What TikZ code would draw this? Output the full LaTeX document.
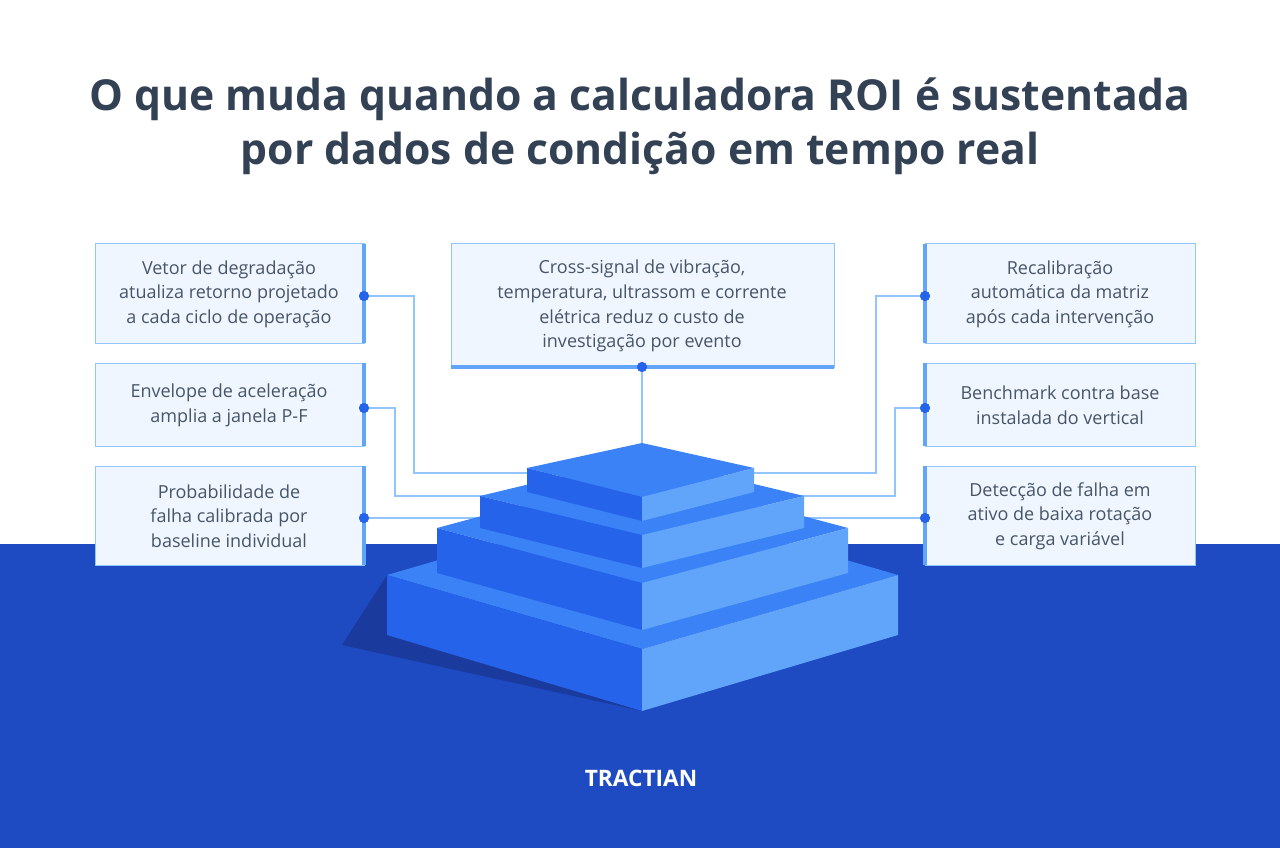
\documentclass[tikz,border=0pt]{standalone}
\usepackage{fontspec}
\setmainfont{Open Sans}
\begin{document}
\definecolor{bgblue}{HTML}{1E4AC2}
\definecolor{shadowc}{HTML}{1A3A9E}
\definecolor{topc}{HTML}{3B82F6}
\definecolor{leftc}{HTML}{2563EB}
\definecolor{rightc}{HTML}{60A5FA}
\definecolor{boxfill}{HTML}{EFF6FF}
\definecolor{boxline}{HTML}{93C5FD}
\definecolor{accent}{HTML}{60A5FA}
\definecolor{dotc}{HTML}{2563EB}
\definecolor{titlec}{HTML}{334155}
\definecolor{textc}{HTML}{475569}
\begin{tikzpicture}[x=0.75pt,y=-0.75pt,
  box/.style={draw=boxline,fill=boxfill,line width=0.75pt},
  btxt/.style={text=textc,font=\fontsize{13.5}{18.5}\selectfont,align=center},
  conn/.style={draw=boxline,line width=0.9pt},
  dot/.style={circle,fill=dotc,inner sep=0pt,minimum size=7.5pt}]
\useasboundingbox (0,0) rectangle (1280,848);
\fill[white] (0,0) rectangle (1280,544);
\fill[bgblue] (0,544) rectangle (1280,848);
% title
\node[text=titlec,font=\bfseries\fontsize{32}{40.5}\selectfont,align=center] (title) at (640,126) {O que muda quando a calculadora ROI é sustentada\\por dados de condição em tempo real};
% boxes
\path[box] (95,244) rectangle (364,343); \draw[accent,line width=2.5pt] (364,244)--(364,343);
\path[box] (95,363) rectangle (364,446); \draw[accent,line width=2.5pt] (364,363)--(364,446);
\path[box] (95,466) rectangle (364,565); \draw[accent,line width=2.5pt] (364,466)--(364,565);
\path[box] (451,244) rectangle (834,367); \draw[accent,line width=2.5pt] (451,367)--(834,367);
\path[box] (925,244) rectangle (1195,343); \draw[accent,line width=2.5pt] (925,244)--(925,343);
\path[box] (925,363) rectangle (1195,446); \draw[accent,line width=2.5pt] (925,363)--(925,446);
\path[box] (925,466) rectangle (1195,565); \draw[accent,line width=2.5pt] (925,466)--(925,565);
\node[btxt] (l1) at (229,294) {Vetor de degradação\\atualiza retorno projetado\\a cada ciclo de operação};
\node[btxt] (l2) at (229,405) {Envelope de aceleração\\amplia a janela P-F};
\node[btxt] (l3) at (229,516) {Probabilidade de\\falha calibrada por\\baseline individual};
\node[btxt] (c1) at (642,306) {Cross-signal de vibração,\\temperatura, ultrassom e corrente\\elétrica reduz o custo de\\investigação por evento};
\node[btxt] (r1) at (1060,294) {Recalibração\\automática da matriz\\após cada intervenção};
\node[btxt] (r2) at (1060,405) {Benchmark contra base\\instalada do vertical};
\node[btxt] (r3) at (1060,516) {Detecção de falha em\\ativo de baixa rotação\\e carga variável};
% connector endpoints
\coordinate (p1) at (600,473); \coordinate (p2) at (560,496); \coordinate (p3) at (520,518);
\coordinate (q1) at (700,473); \coordinate (q2) at (740,496); \coordinate (q3) at (780,518);
\coordinate (pc) at (642,460);
\node[dot] (dl1) at (364,296) {}; \node[dot] (dl2) at (364,408) {}; \node[dot] (dl3) at (364,518) {};
\node[dot] (dr1) at (925,296) {}; \node[dot] (dr2) at (925,408) {}; \node[dot] (dr3) at (925,518) {};
\node[dot] (dc) at (642,367) {};
\draw[conn] (dl1.center) -| (414,473) -- (p1);
\draw[conn] (dl2.center) -| (395,496) -- (p2);
\draw[conn] (dl3.center) -- (p3);
\draw[conn] (dr1.center) -| (876,473) -- (q1);
\draw[conn] (dr2.center) -| (895,496) -- (q2);
\draw[conn] (dr3.center) -- (q3);
\draw[conn] (dc.center) -- (pc);
\node[dot] at (364,296) {}; \node[dot] at (364,408) {}; \node[dot] at (364,518) {};
\node[dot] at (925,296) {}; \node[dot] at (925,408) {}; \node[dot] at (925,518) {};
\node[dot] at (642,367) {};
% shadow
\fill[shadowc] (387,575) -- (342,645) -- (642,711) -- cycle;
% tier 4
\fill[topc] (642,501) -- (898,575) -- (642,649) -- (387,575) -- cycle;
\fill[leftc] (387,575) -- (642,649) -- (642,711) -- (387,635) -- cycle;
\fill[rightc] (898,575) -- (642,649) -- (642,711) -- (898,635) -- cycle;
% tier 3
\fill[topc] (642,473) -- (848,528) -- (642,583) -- (437,528) -- cycle;
\fill[leftc] (437,528) -- (642,583) -- (642,630) -- (437,573) -- cycle;
\fill[rightc] (848,528) -- (642,583) -- (642,630) -- (848,573) -- cycle;
% tier 2
\fill[topc] (642,457) -- (804,496) -- (642,535) -- (480,496) -- cycle;
\fill[leftc] (480,496) -- (642,535) -- (642,568) -- (480,528) -- cycle;
\fill[rightc] (804,496) -- (642,535) -- (642,568) -- (804,528) -- cycle;
% tier 1
\fill[topc] (642,443) -- (754,468) -- (642,497) -- (527,468) -- cycle;
\fill[leftc] (527,468) -- (642,497) -- (642,521) -- (527,492) -- cycle;
\fill[rightc] (754,468) -- (642,497) -- (642,521) -- (754,492) -- cycle;
% logo
\node[text=white,font=\bfseries\fontsize{17}{20}\selectfont] (logo) at (641,778) {TRACTIAN};
\end{tikzpicture}
\end{document}
